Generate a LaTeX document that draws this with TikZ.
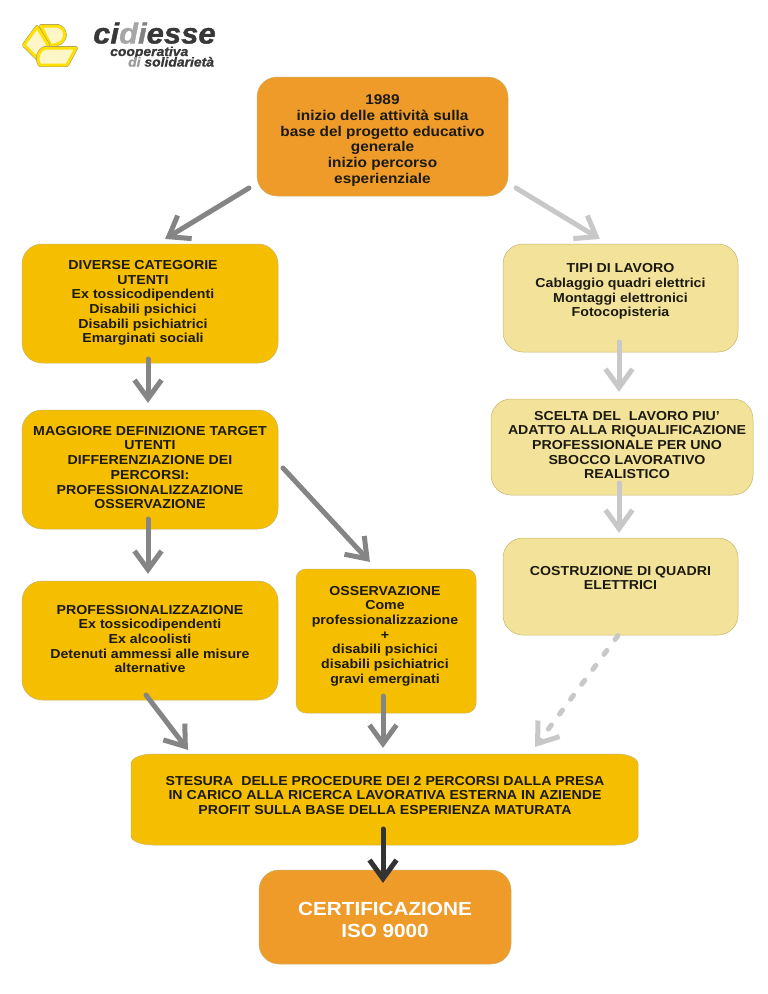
\documentclass[tikz,border=0pt]{standalone}
\usepackage{fontspec}
\setmainfont[FakeStretch=1.09]{Liberation Sans}
\newfontfamily\logofont[FakeStretch=1.07,FakeBold=1.2]{Liberation Sans}
\usetikzlibrary{arrows.meta,calc}
\pgfdeclarearrow{
  name=VeeHead,
  setup code={
    \pgfarrowssettipend{0pt}
    \pgfarrowssetlineend{-8pt}
    \pgfarrowssetbackend{-25pt}
    \pgfarrowssetvisualbackend{-8pt}
  },
  drawing code={
    \pgfsetdash{}{0pt}
    \pgfsetbuttcap
    \pgfsetmiterjoin
    \pgfsetlinewidth{5pt}
    \pgfpathmoveto{\pgfpoint{-23pt}{13.5pt}}
    \pgfpathlineto{\pgfpoint{-4.4pt}{0pt}}
    \pgfpathlineto{\pgfpoint{-23pt}{-13.5pt}}
    \pgfusepathqstroke
  },
}
\definecolor{orangeb}{HTML}{EE9B2A}
\definecolor{yellowb}{HTML}{F5BF00}
\definecolor{paleb}{HTML}{F3E39A}
\definecolor{edgeb}{HTML}{C9B46A}
\definecolor{midgray}{HTML}{858585}
\definecolor{lightgray2}{HTML}{C8C8C8}
\definecolor{darkar}{HTML}{333333}
\definecolor{txtc}{HTML}{1C1A10}
\definecolor{logoy}{HTML}{FFE000}
\definecolor{logoin}{HTML}{FFF6C8}
\tikzset{
  x=1pt,y=-1pt,
  basebox/.style={draw=edgeb,line width=0.5pt,rounded corners=20pt,inner sep=0pt,outer sep=0pt},
  orangebox/.style={basebox,fill=orangeb},
  yellowbox/.style={basebox,fill=yellowb},
  palebox/.style={basebox,fill=paleb},
  labeltxt/.style={align=center,text=txtc,font=\fontsize{13}{14.7}\selectfont\bfseries,inner sep=0pt},
  toptxt/.style={labeltxt,font=\fontsize{14.1}{15.75}\selectfont\bfseries},
  arrowbase/.style={line width=5pt,line cap=round,-{VeeHead}},
  grayarrow/.style={arrowbase,draw=midgray},
  lightarrow/.style={arrowbase,draw=lightgray2},
  darkarrow/.style={arrowbase,draw=darkar},
  dasharrow/.style={lightarrow,dash pattern=on 5pt off 13.6pt},
  logoout/.style={draw=black!45,line width=3.9pt,line join=round},
  logoband/.style={fill=logoin,draw=logoy,line width=3pt,line join=round},
  logotxt/.style={anchor=base west,inner sep=0pt,text=black!78,text height=7pt,text depth=0pt,font=\fontsize{13}{13}\logofont\bfseries\itshape},
}
\begin{document}
\begin{tikzpicture}
\useasboundingbox[fill=white] (0,0) rectangle (768,994);
% logo
\draw[logoout] (41,26) -- (58,26) .. controls (66,29) and (67,38) .. (60,43) -- (51,46) -- cycle;
\draw[logoband] (41,26) -- (58,26) .. controls (66,29) and (67,38) .. (60,43) -- (51,46) -- cycle;
\draw[logoout] (24,45) -- (37,27) -- (48,45) -- (38,59) -- cycle;
\draw[logoband] (24,45) -- (37,27) -- (48,45) -- (38,59) -- cycle;
\draw[logoout] (40,65) .. controls (36,58) and (38,51) .. (45,48) -- (76,48) -- (67,65) -- cycle;
\draw[logoband] (40,65) .. controls (36,58) and (38,51) .. (45,48) -- (76,48) -- (67,65) -- cycle;
\node[anchor=base west,inner sep=0pt,text=black!78,font=\fontsize{29}{29}\logofont\bfseries\itshape] (logoa) at (93,43.5) {ci\textcolor{black!35}{d}\textcolor{black!50}{i}esse};
\node[logotxt] (logob) at (110,56) {cooperativa};
\node[logotxt] (logoc) at (128,66.5) {\textcolor{black!40}{di} solidarietà};
% boxes
\node[orangebox,minimum width=251pt,minimum height=119pt] (top) at (382.5,136.5) {};
\node[yellowbox,minimum width=256pt,minimum height=119pt] (cat) at (150,303.5) {};
\node[yellowbox,minimum width=256pt,minimum height=119pt] (mag) at (150,469.5) {};
\node[yellowbox,minimum width=256pt,minimum height=119pt] (pro) at (150,640.5) {};
\node[yellowbox,minimum width=180pt,minimum height=144pt,rounded corners=10pt] (oss) at (386,641) {};
\node[palebox,minimum width=235pt,minimum height=108pt] (tip) at (620.5,298) {};
\node[palebox,minimum width=262pt,minimum height=96pt] (sce) at (622,447) {};
\node[palebox,minimum width=235pt,minimum height=97pt] (cos) at (620.5,586.5) {};
\node[inner sep=0pt,outer sep=0pt,minimum width=507pt,minimum height=91pt] (ste) at (384.5,799.5) {};
\path[draw=edgeb,line width=0.5pt,fill=yellowb]
  ([xshift=22pt]ste.north west) -- ([xshift=-22pt]ste.north east)
  .. controls ([xshift=-10pt]ste.north east) and ([yshift=-4pt]ste.north east) .. ([yshift=-10pt]ste.north east)
  -- ([yshift=9pt]ste.south east)
  .. controls ([yshift=4pt]ste.south east) and ([xshift=-10pt]ste.south east) .. ([xshift=-22pt]ste.south east)
  -- ([xshift=22pt]ste.south west)
  .. controls ([xshift=10pt]ste.south west) and ([yshift=4pt]ste.south west) .. ([yshift=9pt]ste.south west)
  -- ([yshift=-10pt]ste.north west)
  .. controls ([yshift=-4pt]ste.north west) and ([xshift=10pt]ste.north west) .. ([xshift=22pt]ste.north west) -- cycle;
\node[orangebox,minimum width=252pt,minimum height=94pt] (cer) at (385,917) {};
% texts
\node[toptxt] (ttop) at (382.5,140.5) {1989\\inizio delle attività sulla\\base del progetto educativo\\generale\\inizio percorso\\esperienziale};
\node[labeltxt] (tcat) at (143,303) {DIVERSE CATEGORIE\\UTENTI\\Ex tossicodipendenti\\Disabili psichici\\Disabili psichiatrici\\Emarginati sociali};
\node[labeltxt] (tmag) at (150,467.5) {MAGGIORE DEFINIZIONE TARGET\\UTENTI\\DIFFERENZIAZIONE DEI\\PERCORSI:\\PROFESSIONALIZZAZIONE\\OSSERVAZIONE};
\node[labeltxt] (tpro) at (150,639) {PROFESSIONALIZZAZIONE\\Ex tossicodipendenti\\Ex alcoolisti\\Detenuti ammessi alle misure\\alternative};
\node[labeltxt] (toss) at (385,636) {OSSERVAZIONE\\Come\\professionalizzazione\\+\\disabili psichici\\disabili psichiatrici\\gravi emerginati};
\node[labeltxt] (ttip) at (620.5,291.5) {TIPI DI LAVORO\\Cablaggio quadri elettrici\\Montaggi elettronici\\Fotocopisteria};
\node[labeltxt] (tsce) at (627,445) {SCELTA DEL\ \ LAVORO PIU'\\ADATTO ALLA RIQUALIFICAZIONE\\PROFESSIONALE PER UNO\\SBOCCO LAVORATIVO\\REALISTICO};
\node[labeltxt] (tcos) at (620.5,578) {COSTRUZIONE DI QUADRI\\ELETTRICI};
\node[labeltxt] (tste) at (385,795.5) {STESURA\ \ DELLE PROCEDURE DEI 2 PERCORSI DALLA PRESA\\IN CARICO ALLA RICERCA LAVORATIVA ESTERNA IN AZIENDE\\PROFIT SULLA BASE DELLA ESPERIENZA MATURATA};
\node[labeltxt,text=white,font=\fontsize{19}{22}\selectfont\bfseries] (tcer) at (385,919.5) {CERTIFICAZIONE\\ISO 9000};
% connector ends
\coordinate (a1) at (249,188); \coordinate (a2) at (165,239);
\coordinate (b1) at (516,188); \coordinate (b2) at (600,239);
\coordinate (c1) at (148,359); \coordinate (c2) at (148,403);
\coordinate (d1) at (148,519); \coordinate (d2) at (148,574);
\coordinate (e1) at (283,468); \coordinate (e2) at (370,562);
\coordinate (f1) at (146,695); \coordinate (f2) at (188,750);
\coordinate (g1) at (383,696); \coordinate (g2) at (383,748);
\coordinate (h1) at (619,342); \coordinate (h2) at (619,392);
\coordinate (i1) at (619,483); \coordinate (i2) at (619,533);
\coordinate (j1) at (618,635.5); \coordinate (j2) at (535,747);
\coordinate (k1) at (383,829); \coordinate (k2) at (383,883);
% connectors
\draw[grayarrow] (a1) -- (a2);
\draw[lightarrow] (b1) -- (b2);
\draw[grayarrow] (c1) -- (c2);
\draw[grayarrow] (d1) -- (d2);
\draw[grayarrow] (e1) -- (e2);
\draw[grayarrow] (f1) -- (f2);
\draw[grayarrow] (g1) -- (g2);
\draw[lightarrow] (h1) -- (h2);
\draw[lightarrow] (i1) -- (i2);
\draw[dasharrow] (j1) -- (j2);
\draw[darkarrow] (k1) -- (k2);
\end{tikzpicture}
\end{document}
